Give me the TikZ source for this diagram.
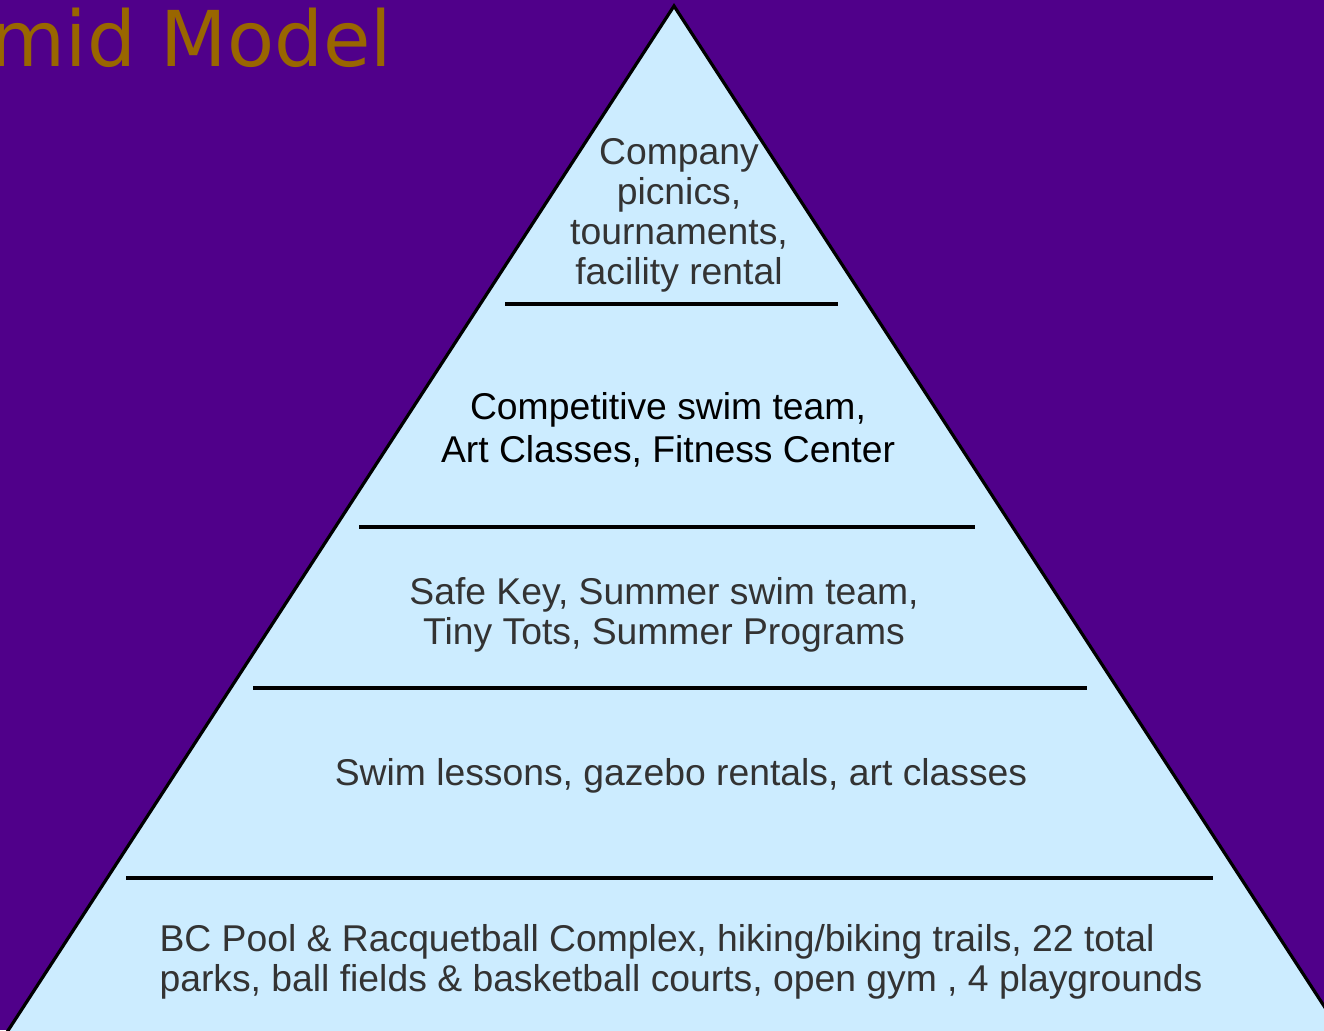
\documentclass[tikz,border=0pt]{standalone}
\usepackage{fontspec}
\setmainfont{Liberation Sans}
\newfontfamily\titlefont{DejaVu Sans}
\definecolor{bgpurple}{RGB}{80,0,138}
\definecolor{pyrblue}{RGB}{204,236,255}
\definecolor{titlegold}{RGB}{153,102,0}
\definecolor{textgray}{RGB}{51,51,51}

\begin{document}
\begin{tikzpicture}[x=1pt, y=-1pt,
    level/.style={text=textgray, align=center, font=\fontsize{37.3}{40}\selectfont},
    divider/.style={line width=4pt}]
    % Define the frame
    \useasboundingbox (0,0) rectangle (1324,1030);
    \clip (0,0) rectangle (1324,1030);
    \fill[bgpurple] (0,0) rectangle (1324,1030);

    % Title
    \node[anchor=base east, inner sep=0pt, text=titlegold, font=\titlefont\fontsize{77}{80}\selectfont] (title) at (392,67) {mid Model};

    % Define the pyramid
    \draw[line width=3.2pt, fill=pyrblue] (674,6) -- (1350,1046) -- (-2,1046) -- cycle;

    % Draw the dividers
    \draw[divider] (505,304) -- (838,304);
    \draw[divider] (359,527) -- (975,527);
    \draw[divider] (253,688) -- (1087,688);
    \draw[divider] (126,878) -- (1213,878);

    % Label the levels
    \node[level] (top) at (679,215) {Company\\picnics,\\tournaments,\\facility rental};
    \node[level, text=black, font=\fontsize{37.3}{43}\selectfont] (second) at (668,430) {Competitive swim team,\\Art Classes, Fitness Center};
    \node[level] (third) at (664,615) {Safe Key, Summer swim team,\\Tiny Tots, Summer Programs};
    \node[level] (fourth) at (681,776) {Swim lessons, gazebo rentals, art classes};
    \node[level, align=left, anchor=west] (base) at (156,962) {BC Pool \& Racquetball Complex, hiking/biking trails, 22 total\\parks, ball fields \& basketball courts, open gym , 4 playgrounds};

\end{tikzpicture}
\end{document}
